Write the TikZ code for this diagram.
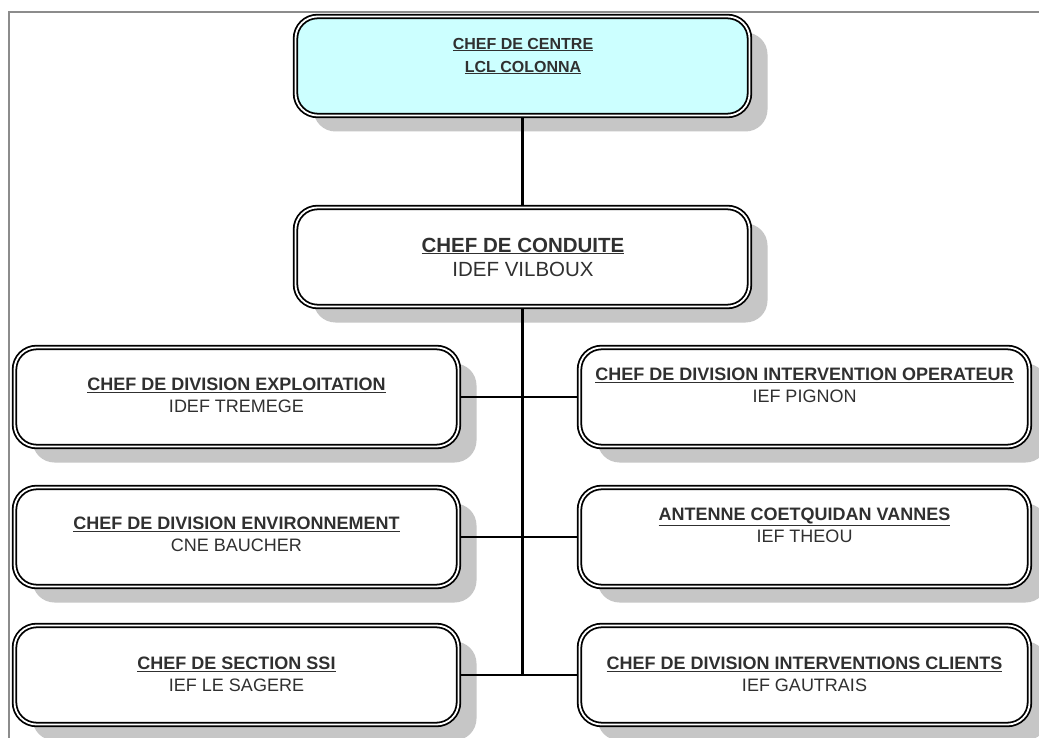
\documentclass[tikz,border=0pt]{standalone}
\usepackage{fontspec}
\setmainfont{Liberation Sans}
\usetikzlibrary{shadows}
\definecolor{boxcyan}{HTML}{CCFFFF}
\definecolor{shadowgray}{HTML}{C6C6C6}
\definecolor{textgray}{HTML}{303030}
\definecolor{framegray}{HTML}{8C8C8C}
\tikzset{
  orgbox/.style={rectangle, rounded corners=22pt, inner sep=0pt, outer sep=2.8pt,
    draw=black, line width=1.8pt, double=white, double distance=1.8pt, fill=white,
    drop shadow={shadow xshift=18pt, shadow yshift=-16pt, fill=shadowgray, opacity=1}},
  leftbox/.style={orgbox, minimum width=444pt, minimum height=99pt},
  rightbox/.style={orgbox, minimum width=450pt, minimum height=99pt},
  mainbox/.style={orgbox, minimum width=454pt, minimum height=99pt},
  lbl/.style={align=center, text=textgray, inner sep=0pt},
  link/.style={draw=black, line width=2.3pt},
}
\newcommand{\ttl}[1]{\textbf{\underline{#1}}}
\begin{document}
\begin{tikzpicture}[x=1pt, y=-1pt]
\useasboundingbox (0,0) rectangle (1039,738);
\fill[white] (0,0) rectangle (1039,738);
% page frame
\draw[framegray, line width=1.5pt] (1039,12) -- (9,12) -- (9,738);

% boxes
\node[mainbox, fill=boxcyan] (centre) at (522.5,66) {};
\node[mainbox] (conduite) at (522.5,257) {};
\node[leftbox] (l1) at (236.5,397) {};
\node[leftbox] (l2) at (236.5,537) {};
\node[leftbox] (l3) at (236.5,675) {};
\node[rightbox] (r1) at (804.5,397) {};
\node[rightbox] (r2) at (804.5,537) {};
\node[rightbox] (r3) at (804.5,675) {};

% connectors
\coordinate (trunkend) at (conduite.south |- l3.east);
\draw[link] (centre.south) -- (conduite.north);
\draw[link] (conduite.south) -- (trunkend);
\draw[link] (l1.east) -- (r1.west);
\draw[link] (l2.east) -- (r2.west);
\draw[link] (l3.east) -- (r3.west);

% labels
\node[lbl, font=\fontsize{16}{23}\selectfont] (tcentre) at (523,56)
  {\ttl{CHEF DE CENTRE}\\\ttl{LCL COLONNA}};
\node[lbl, font=\fontsize{20.5}{24}\selectfont] (tconduite) at (523,257)
  {\ttl{CHEF DE CONDUITE}\\IDEF VILBOUX};
\node[lbl, font=\fontsize{18}{22}\selectfont] (tl1) at (236.5,395)
  {\ttl{CHEF DE DIVISION EXPLOITATION}\\IDEF TREMEGE};
\node[lbl, font=\fontsize{18}{22}\selectfont] (tl2) at (236.5,534)
  {\ttl{CHEF DE DIVISION ENVIRONNEMENT}\\CNE BAUCHER};
\node[lbl, font=\fontsize{18}{22}\selectfont] (tl3) at (236.5,674)
  {\ttl{CHEF DE SECTION SSI}\\IEF LE SAGERE};
\node[lbl, font=\fontsize{18}{22}\selectfont] (tr1) at (804.5,385)
  {\ttl{CHEF DE DIVISION INTERVENTION OPERATEUR}\\IEF PIGNON};
\node[lbl, font=\fontsize{18}{22}\selectfont] (tr2) at (804.5,525)
  {\ttl{ANTENNE COETQUIDAN VANNES}\\IEF THEOU};
\node[lbl, font=\fontsize{18}{22}\selectfont] (tr3) at (804.5,674)
  {\ttl{CHEF DE DIVISION INTERVENTIONS CLIENTS}\\IEF GAUTRAIS};
\end{tikzpicture}
\end{document}
